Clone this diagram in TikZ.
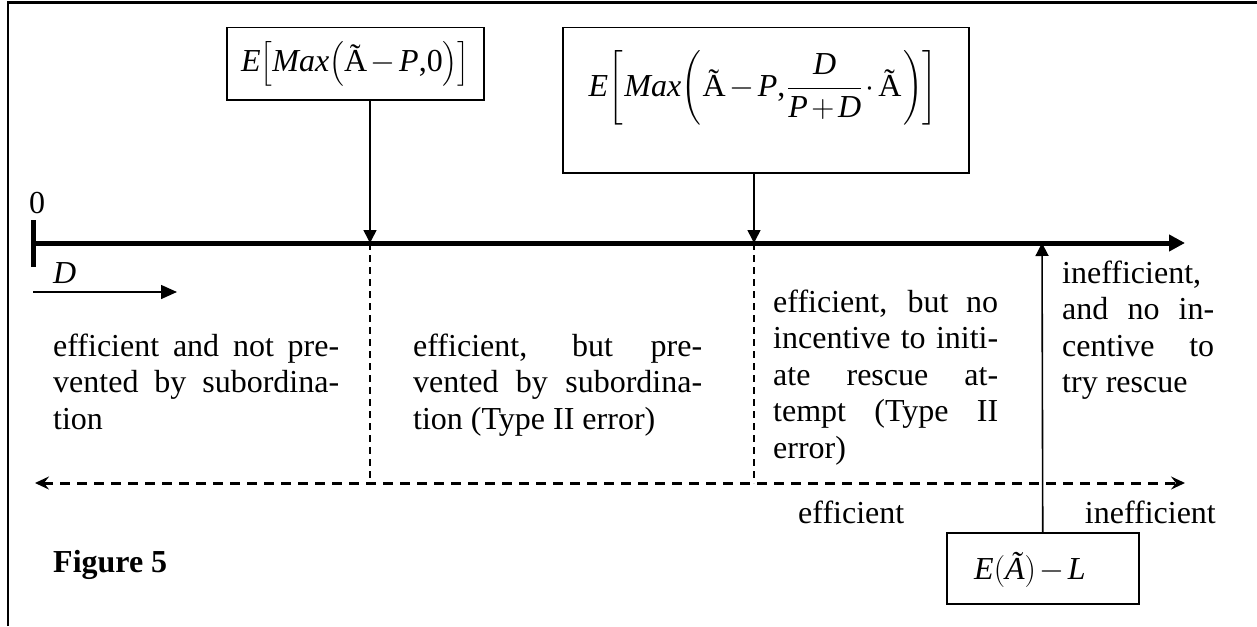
\RequirePackage{fix-cm}
\documentclass[tikz,border=0pt]{standalone}
\usepackage{amsmath}
\usepackage{fontspec}
\setmainfont{Liberation Serif}
\usetikzlibrary{arrows.meta}
\newcommand{\vi}[1]{\text{\itshape #1}}
\newcommand{\Atil}{\text{\~{A}}}
\begin{document}
\begin{tikzpicture}[x=1pt,y=-1pt,
  every node/.style={font=\fontsize{32}{36.5}\selectfont, inner sep=0pt},
  fbox/.style={draw, line width=1.5pt, anchor=north west},
  conn/.style={line width=1.6pt, -{Triangle[length=13pt,width=13pt]}},
  axisline/.style={line width=5pt},
  vdash/.style={line width=1.5pt, dash pattern=on 7pt off 5pt},
  hdash/.style={line width=3pt, dash pattern=on 10pt off 7pt,
    {Stealth[length=14pt,width=13pt,inset=5pt]}-{Stealth[length=14pt,width=13pt,inset=5pt]}},
  blk/.style={anchor=base west, align=justify,
    execute at begin node={\tolerance=10000\hbadness=10000\hyphenpenalty=10000}},
  lbl/.style={anchor=base west},
  formula/.style={execute at begin node={\medmuskip=2mu\thinmuskip=1mu}}
]
\useasboundingbox (0,0) rectangle (1257,626);
% frame
\draw[line width=2.5pt, line join=miter] (8,626) -- (8,2.5) -- (1257,2.5);

% boxes
\node[fbox, minimum width=257pt, minimum height=72pt] (b1) at (226,27) {};
\node[formula] (f1) at (b1.center) {$\vi{E}\bigl[\vi{Max}\bigl(\Atil-\vi{P}\text{,}\text{0}\bigr)\bigr]$};
\node[fbox, minimum width=406pt, minimum height=145pt] (b2) at (562,27) {};
\node[formula] (f2) at (763,88) {$\vi{E}\biggl[\,\vi{Max}\biggl(\,\Atil-\vi{P}\text{,}\,\dfrac{\vi{D}}{\vi{P}+\vi{D}}\cdot\Atil\,\biggr)\biggr]$};
\node[fbox, minimum width=192pt, minimum height=71pt] (b3) at (946,532) {};
\node[formula] (f3) at (1030,570) {$\vi{E}(\vi{\~{A}})-\vi{L}$};

% axis
\coordinate (o) at (33,243);
\coordinate (axend) at (1185,243);
\coordinate (t1) at (33,220);
\coordinate (t2) at (33,267);
\draw[axisline, -{Triangle[length=16pt,width=16pt]}] (o) -- (axend);
\draw[line width=5pt] (t1) -- (t2);

% points on axis
\coordinate (p1) at (370,243);
\coordinate (p2) at (754,243);
\coordinate (p3) at (1042,243);
\coordinate (q1) at (370,483);
\coordinate (q2) at (754,483);
\draw[conn] (b1.south -| p1) -- (p1);
\draw[conn] (b2.south -| p2) -- (p2);
\draw[conn] (b3.north) -- (p3);
\draw[vdash] (p1) -- (q1);
\draw[vdash] (p2) -- (q2);

% horizontal dashed
\coordinate (hl) at (35,483);
\coordinate (hr) at (1185,483);
\draw[hdash] (hl) -- (hr);

% D arrow
\coordinate (d1) at (33,292);
\coordinate (d2) at (177,292);
\draw[line width=1.5pt, -{Triangle[length=16pt,width=14pt]}] (d1) -- (d2);
\node[lbl] (dl) at (53,283) {\textit{D}};
\node[lbl] (zero) at (29,213) {0};

% text blocks
\node[blk, text width=286pt] (ta) at (53,356) {efficient and not pre-\linebreak vented by subordina-\linebreak tion};
\node[blk, text width=289pt] (tb) at (413,356) {efficient, but pre-\linebreak vented by subordina-\linebreak tion (Type II error)};
\node[blk, text width=225pt] (tc) at (773,312) {efficient, but no\linebreak incentive to initi-\linebreak ate rescue at-\linebreak tempt (Type II\linebreak error)};
\node[blk, text width=152pt] (td) at (1062,283) {inefficient,\linebreak and no in-\linebreak centive to\linebreak try rescue};

\node[lbl] (eff) at (798,523) {efficient};
\node[anchor=base east] (ineff) at (1216,523) {inefficient};
\node[lbl, font=\fontsize{32}{36.5}\selectfont\bfseries] (fig) at (53,572) {Figure 5};
\end{tikzpicture}
\end{document}
